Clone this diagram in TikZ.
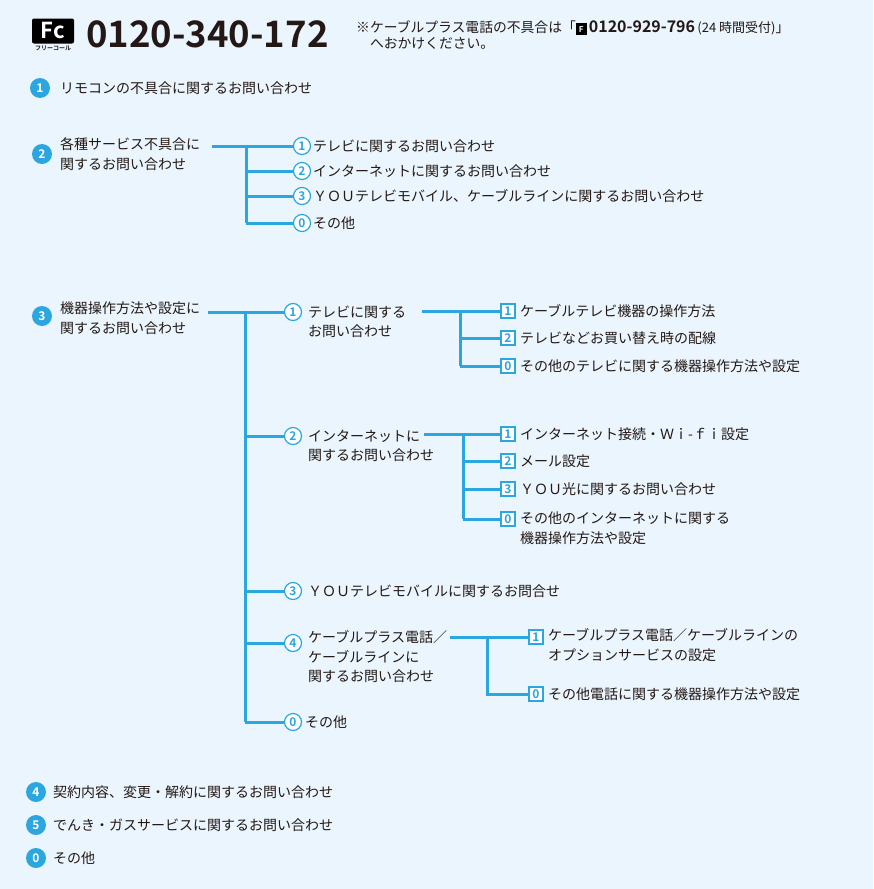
\documentclass[tikz,border=0pt]{standalone}
\usepackage{fontspec}
\setmainfont{Noto Sans CJK JP}[BoldFont={Noto Sans CJK JP Bold}]
\definecolor{bg}{HTML}{EAF5FD}
\definecolor{ln}{HTML}{2BA6DF}
\definecolor{tx}{HTML}{231815}
\begin{document}
\begin{tikzpicture}[x=1pt,y=-1pt,
  every node/.style={inner sep=0pt,text=tx},
  t/.style={anchor=west,font=\fontsize{14}{19.5}\selectfont,align=left},
  mA/.style={circle,fill=ln,minimum size=20pt,text=white,font=\fontsize{12}{12}\selectfont\bfseries},
  mB/.style={circle,draw=ln,line width=1.2pt,fill=white,minimum size=17pt,text=ln,font=\fontsize{12}{12}\selectfont\bfseries},
  mC/.style={draw=ln,line width=1.1pt,fill=white,minimum size=14pt,text=ln,font=\fontsize{12}{12}\selectfont\bfseries},
  br/.style={draw=ln,line width=3pt}]
\fill[bg] (0,0) rectangle (873,889);
% header
\node[fill=black,minimum width=42pt,minimum height=25pt,rounded corners=2pt,text=white,font=\fontsize{22}{22}\selectfont\bfseries] (logo) at (53,31) {Fc};
\node[font=\fontsize{6}{6}\selectfont\bfseries] (logot) at (53,48) {フリーコール};
\node[anchor=west,font=\fontsize{36.5}{36.5}\selectfont\bfseries] (tel) at (86,34) {0120-340-172};
\node[anchor=north west,font=\fontsize{13.8}{16}\selectfont,align=left] (note) at (356,20) {※ケーブルプラス電話の不具合は「\textbf{\colorbox{black}{\color{white}\fontsize{8}{8}\selectfont F}\,{\fontsize{16}{16}\selectfont 0120-929-796}}\,{\fontsize{13}{13}\selectfont (24 時間受付)}」\\\hspace{1em}へおかけください。};
% level 1
\node[mA] (a1) at (40,88) {1}; \node[t] (a1t) at (60,88) {リモコンの不具合に関するお問い合わせ};
\node[mA] (a2) at (42,154) {2}; \node[t] (a2t) at (60,154) {各種サービス不具合に\\関するお問い合わせ};
\node[mB] (b21) at (302,146) {1}; \node[t] (b21t) at (313,146) {テレビに関するお問い合わせ};
\node[mB] (b22) at (302,171) {2}; \node[t] (b22t) at (313,171) {インターネットに関するお問い合わせ};
\node[mB] (b23) at (302,196) {3}; \node[t] (b23t) at (313,196) {ＹＯＵテレビモバイル、ケーブルラインに関するお問い合わせ};
\node[mB] (b20) at (302,223) {0}; \node[t] (b20t) at (313,223) {その他};
\coordinate (j2) at (246,146);
\draw[br] (212,146) -- (b21); \draw[br] (j2) -- (246,223);
\draw[br] (246,171) -- (b22); \draw[br] (246,196) -- (b23); \draw[br] (246,223) -- (b20);
% level 3
\node[mA] (a3) at (42,316) {3}; \node[t] (a3t) at (60,318) {機器操作方法や設定に\\関するお問い合わせ};
\node[mB] (c1) at (293,312) {1}; \node[t] (c1t) at (308,322) {テレビに関する\\お問い合わせ};
\node[mB] (c2) at (293,436) {2}; \node[t] (c2t) at (308,446) {インターネットに\\関するお問い合わせ};
\node[mB] (c3) at (293,591) {3}; \node[t] (c3t) at (308,591) {ＹＯＵテレビモバイルに関するお問合せ};
\node[mB] (c4) at (293,643) {4}; \node[t] (c4t) at (308,657) {ケーブルプラス電話／\\ケーブルラインに\\関するお問い合わせ};
\node[mB] (c0) at (293,722) {0}; \node[t] (c0t) at (305,722) {その他};
\draw[br] (208,312) -- (c1); \draw[br] (245,312) -- (245,722);
\draw[br] (245,436) -- (c2); \draw[br] (245,591) -- (c3); \draw[br] (245,643) -- (c4); \draw[br] (245,722) -- (c0);
% sub 1
\node[mC] (d11) at (508,311) {1}; \node[t] (d11t) at (520,311) {ケーブルテレビ機器の操作方法};
\node[mC] (d12) at (508,338) {2}; \node[t] (d12t) at (520,338) {テレビなどお買い替え時の配線};
\node[mC] (d10) at (508,366) {0}; \node[t] (d10t) at (520,366) {その他のテレビに関する機器操作方法や設定};
\draw[br] (422,311) -- (d11); \draw[br] (460,311) -- (460,366);
\draw[br] (460,338) -- (d12); \draw[br] (460,366) -- (d10);
% sub 2
\node[mC] (d21) at (508,434) {1}; \node[t] (d21t) at (520,434) {インターネット接続・Ｗｉ-ｆｉ設定};
\node[mC] (d22) at (508,461) {2}; \node[t] (d22t) at (520,461) {メール設定};
\node[mC] (d23) at (508,489) {3}; \node[t] (d23t) at (520,489) {ＹＯＵ光に関するお問い合わせ};
\node[mC] (d20) at (508,519) {0}; \node[t] (d20t) at (520,528) {その他のインターネットに関する\\機器操作方法や設定};
\draw[br] (424,434) -- (d21); \draw[br] (463,434) -- (463,519);
\draw[br] (463,461) -- (d22); \draw[br] (463,489) -- (d23); \draw[br] (463,519) -- (d20);
% sub 4
\node[mC] (d41) at (536,637) {1}; \node[t] (d41t) at (548,645) {ケーブルプラス電話／ケーブルラインの\\オプションサービスの設定};
\node[mC] (d40) at (536,694) {0}; \node[t] (d40t) at (548,694) {その他電話に関する機器操作方法や設定};
\draw[br] (450,637) -- (d41); \draw[br] (487,637) -- (487,694) -- (d40);
% bottom
\node[mA] (a4) at (36,792) {4}; \node[t] (a4t) at (53,792) {契約内容、変更・解約に関するお問い合わせ};
\node[mA] (a5) at (36,825) {5}; \node[t] (a5t) at (53,825) {でんき・ガスサービスに関するお問い合わせ};
\node[mA] (a0) at (36,858) {0}; \node[t] (a0t) at (53,858) {その他};
\end{tikzpicture}
\end{document}
